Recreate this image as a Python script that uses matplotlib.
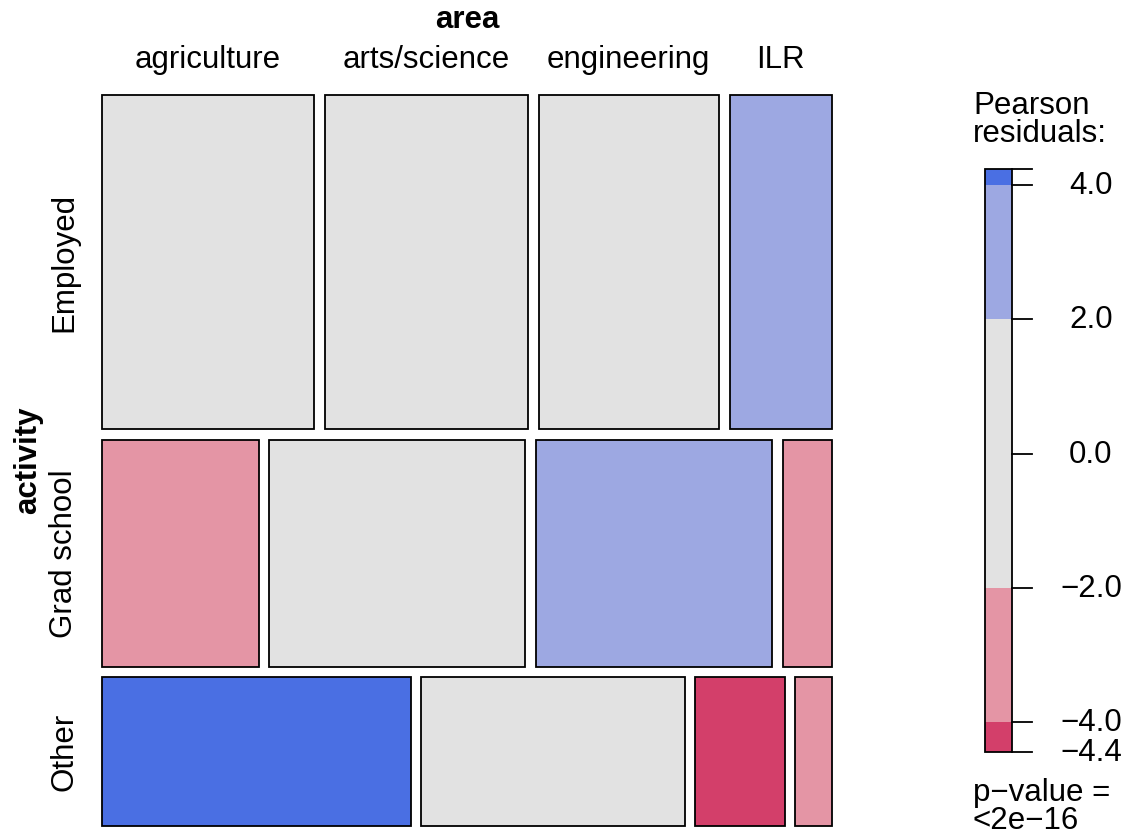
import numpy as np
import matplotlib
matplotlib.use("Agg")
import matplotlib.pyplot as plt
from matplotlib.patches import Rectangle

plt.rcParams['font.family'] = ['Liberation Sans', 'DejaVu Sans']

# activity (rows) x area (columns) contingency table
activity = ["Employed", "Grad school", "Other"]
area = ["agriculture", "arts/science", "engineering", "ILR"]
counts = np.array([
    [210, 200, 178, 101],
    [105, 171, 158, 33],
    [135, 115, 39, 16],
])

# shading: residual cut points and colours (hcl diverging, blue = positive)
cuts = [-4.0, -2.0, 2.0, 4.0]
shade = ["#D33F6A", "#E495A5", "#E2E2E2", "#9DA8E2", "#4A6FE3"]

# pearson residuals under independence
n = counts.sum()
expected = np.outer(counts.sum(axis=1), counts.sum(axis=0)) / n
resid = (counts - expected) / np.sqrt(expected)


def fill_for(r):
    return shade[np.searchsorted(cuts, r)]


W, H = 1128, 838
fig = plt.figure(figsize=(W / 100, H / 100), dpi=100)
ax = fig.add_axes([0, 0, 1, 1])
ax.set_xlim(0, W)
ax.set_ylim(H, 0)
ax.axis("off")

# mosaic tiles, pixel layout
x0, y0, side, gap = 101.6, 95.0, 730.5, 10.7
row_share = counts.sum(axis=1) / n
row_h = (side - gap * (len(activity) - 1)) * row_share
fs = 22.5

y = y0
for i, lab in enumerate(activity):
    col_share = counts[i] / counts[i].sum()
    widths = (side - gap * (len(area) - 1)) * col_share
    x = x0
    for j in range(len(area)):
        ax.add_patch(Rectangle((x, y), widths[j], row_h[i],
                               facecolor=fill_for(resid[i, j]),
                               edgecolor="black", lw=1.3))
        if i == 0:
            ax.text(x + widths[j] / 2, 60, area[j], ha="center", va="center",
                    fontsize=fs)
        x += widths[j] + gap
    ax.text(64, y + row_h[i] / 2, lab, rotation=90, ha="center", va="center",
            fontsize=fs)
    y += row_h[i] + gap

ax.text(x0 + side / 2, 20, "area", ha="center", va="center", fontsize=fs,
        fontweight="bold")
ax.text(28, y0 + side / 2, "activity", rotation=90, ha="center", va="center",
        fontsize=fs, fontweight="bold")

# legend bar
rmin, rmax = resid.min(), resid.max()
bx, bw, btop, bbot = 985, 27, 169, 752


def ypos(v):
    return btop + (rmax - v) / (rmax - rmin) * (bbot - btop)


edges = [rmin] + cuts + [rmax]
for k in range(len(shade)):
    lo, hi = edges[k], edges[k + 1]
    ax.add_patch(Rectangle((bx, ypos(hi)), bw, ypos(lo) - ypos(hi),
                           facecolor=shade[k], edgecolor="none"))
ax.add_patch(Rectangle((bx, btop), bw, bbot - btop, facecolor="none",
                       edgecolor="black", lw=1.3))

ticks = [rmax, 4.0, 2.0, 0.0, -2.0, -4.0, rmin]
for t in ticks:
    yy = ypos(t)
    ax.plot([bx + bw, bx + bw + 20], [yy, yy], color="black", lw=1.3)
    if t != rmax:
        ax.text(1091, yy + 1, f"{t:.1f}".replace("-", "\u2212"), ha="center",
                va="center", fontsize=fs)

ax.text(973, 120, "Pearson\nresiduals:", ha="left", va="center",
        fontsize=fs, linespacing=0.95)
ax.text(973, 807, "p\u2212value =\n<2e\u221216", ha="left", va="center",
        fontsize=fs, linespacing=0.95)

fig.savefig("out.png", dpi=100)
